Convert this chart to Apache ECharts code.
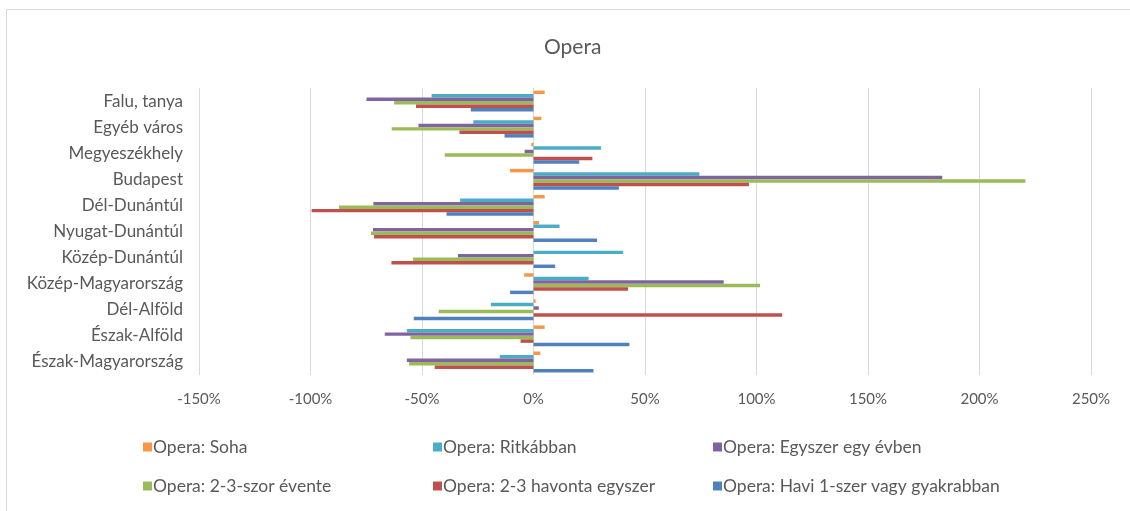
<!DOCTYPE html>
<html>
<head>
<meta charset="utf-8">
<script src="https://cdn.jsdelivr.net/npm/echarts@6/dist/echarts.min.js"></script>
<style>
html,body{margin:0;padding:0;background:#fff;}
#chart{width:1130px;height:511px;}
</style>
</head>
<body>
<div id="chart"></div>
<script>
// Categories (top to bottom)
var categories = ["Falu, tanya","Egyéb város","Megyeszékhely","Budapest","Dél-Dunántúl","Nyugat-Dunántúl","Közép-Dunántúl","Közép-Magyarország","Dél-Alföld","Észak-Alföld","Észak-Magyarország"];
var seriesNames = ["Opera: Soha","Opera: Ritkábban","Opera: Egyszer egy évben","Opera: 2-3-szor évente","Opera: 2-3 havonta egyszer","Opera: Havi 1-szer vagy gyakrabban"];
// values in percent, same order as categories
var soha       = [5, 3.5, -1, -10.5, 5, 2.5, 0, -4.2, 1, 5, 3.1];
var ritkabban  = [-45.7, -27, 30.3, 74.4, -32.9, 11.7, 40.2, 24.7, -19.1, -56.8, -15.1];
var egyszer    = [-74.9, -51.6, -4, 183.3, -71.8, -72, -33.9, 85.3, 2.4, -66.7, -56.8];
var ketharom   = [-62.5, -63.6, -39.8, 220.6, -87.2, -72.9, -54, 101.6, -42.5, -55.2, -55.8];
var havonta    = [-52.7, -33.2, 26.4, 96.6, -99.5, -71.5, -63.7, 42.4, 111.5, -5.8, -44.3];
var havi       = [-28.1, -13, 20.5, 38.3, -39, 28.5, 9.7, -10.5, -53.7, 43, 26.9];
var xTicks = {min: -150, max: 250, interval: 50};

var colors = ["#F79646","#4BACC6","#8064A2","#9BBB59","#C0504D","#4F81BD"];
var allData = [soha, ritkabban, egyszer, ketharom, havonta, havi];
var font = "Lato, 'Open Sans', sans-serif";
var textColor = "#595959";

var series = allData.map(function(d, i){
  return {
    name: seriesNames[i], type: 'bar', data: d,
    barGap: '0%', barCategoryGap: '20%',
    itemStyle: {color: colors[i]},
    emphasis: {disabled: true}
  };
});

var legendPos = [[143,438],[433,438],[713,438],[143,477],[433,477],[713,477]];
var legends = seriesNames.map(function(n, i){
  return {
    data: [n], left: legendPos[i][0], top: legendPos[i][1],
    itemWidth: 9, itemHeight: 9, itemGap: 0, icon: 'rect',
    textStyle: {color: textColor, fontFamily: font, fontSize: 17.5, padding: [0,0,0,-4]},
    padding: 0, selectedMode: false
  };
});

var chart = echarts.init(document.getElementById('chart'));
chart.setOption({
  animation: false,
  color: colors,
  title: {text: 'Opera', left: 539, top: 32, textStyle: {color: textColor, fontFamily: font, fontSize: 21, fontWeight: 'normal'}},
  legend: legends,
  grid: {left: 199, top: 88, width: 892, height: 287, containLabel: false},
  xAxis: {
    type: 'value', min: xTicks.min, max: xTicks.max, interval: xTicks.interval,
    axisLine: {show: false}, axisTick: {show: false},
    axisLabel: {formatter: '{value}%', color: textColor, fontFamily: font, fontSize: 15, margin: 17},
    splitLine: {lineStyle: {color: '#D9D9D9', width: 1}}
  },
  yAxis: {
    type: 'category', data: categories, inverse: true,
    axisLine: {show: false}, axisTick: {show: false},
    axisLabel: {color: textColor, fontFamily: font, fontSize: 17, margin: 16}
  },
  graphic: [
    {type: 'line', shape: {x1: 6.5, y1: 9.5, x2: 1130, y2: 9.5}, style: {stroke: '#D9D9D9', lineWidth: 1}},
    {type: 'line', shape: {x1: 6.5, y1: 9.5, x2: 6.5, y2: 511}, style: {stroke: '#D9D9D9', lineWidth: 1}}
  ],
  series: series
});
</script>
</body>
</html>
